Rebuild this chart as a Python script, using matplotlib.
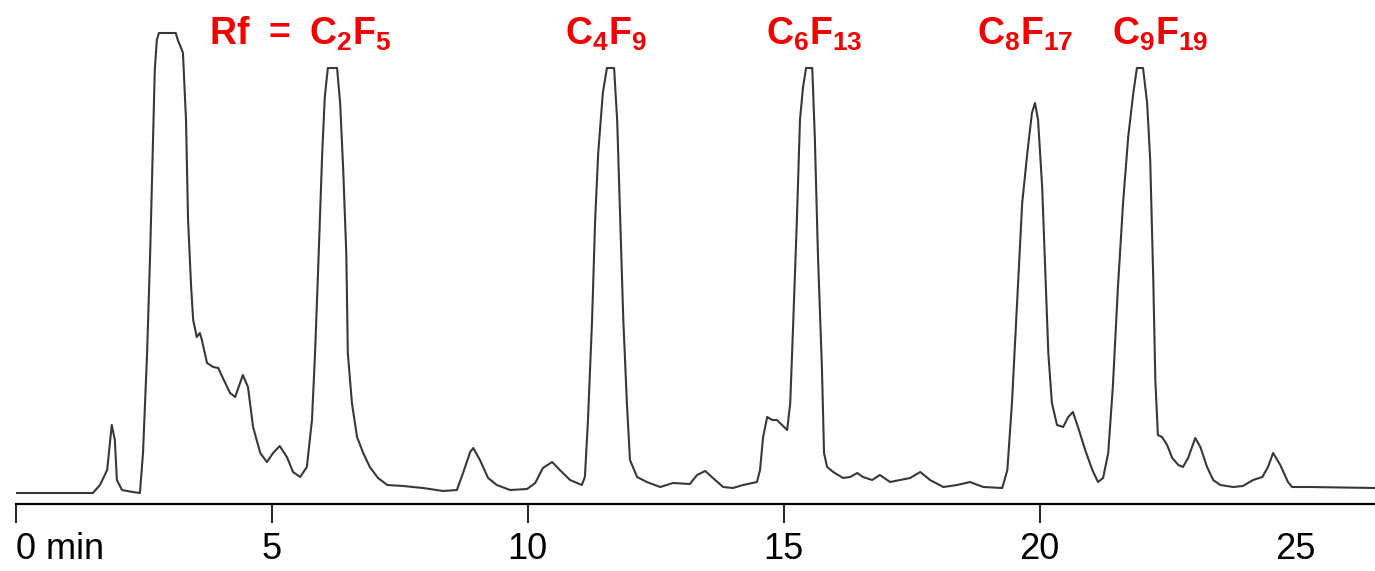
import matplotlib
matplotlib.use("Agg")
import matplotlib.pyplot as plt

plt.rcParams['font.family'] = ['Liberation Sans', 'DejaVu Sans']
plt.rcParams['mathtext.fontset'] = 'custom'
plt.rcParams['mathtext.rm'] = 'Liberation Sans'
plt.rcParams['mathtext.bf'] = 'Liberation Sans:bold'

# chromatogram trace (time in min, detector response in a.u.)
time_min = [0.03, 1.51, 1.65, 1.79, 1.88, 1.94, 1.98, 2.08, 2.29, 2.43,
             2.49, 2.57, 2.63, 2.68, 2.72, 2.76, 2.80, 3.13, 3.17, 3.25,
             3.27, 3.33, 3.37, 3.43, 3.47, 3.54, 3.60, 3.64, 3.74, 3.86,
             3.96, 4.05, 4.19, 4.29, 4.44, 4.54, 4.64, 4.78, 4.91, 5.03,
             5.16, 5.30, 5.42, 5.56, 5.69, 5.79, 5.85, 5.91, 5.99, 6.04,
             6.10, 6.28, 6.34, 6.40, 6.46, 6.49, 6.57, 6.67, 6.79, 6.92,
             7.08, 7.26, 7.57, 7.96, 8.35, 8.62, 8.74, 8.88, 8.94, 9.07,
             9.23, 9.40, 9.66, 9.99, 10.15, 10.30, 10.48, 10.63, 10.83, 11.06,
             11.12, 11.18, 11.26, 11.32, 11.38, 11.47, 11.55, 11.69, 11.75, 11.81,
             11.87, 11.94, 12.00, 12.14, 12.33, 12.59, 12.84, 13.17, 13.31, 13.47,
             13.62, 13.82, 14.01, 14.21, 14.48, 14.54, 14.60, 14.68, 14.78, 14.87,
             14.97, 15.07, 15.13, 15.19, 15.26, 15.32, 15.38, 15.44, 15.56, 15.61,
             15.67, 15.75, 15.79, 15.85, 15.97, 16.16, 16.30, 16.44, 16.55, 16.73,
             16.88, 17.08, 17.28, 17.47, 17.67, 17.86, 18.12, 18.39, 18.64, 18.90,
             19.27, 19.37, 19.46, 19.56, 19.66, 19.76, 19.85, 19.91, 19.97, 20.05,
             20.11, 20.17, 20.24, 20.34, 20.46, 20.56, 20.65, 20.75, 20.89, 21.03,
             21.14, 21.24, 21.34, 21.43, 21.53, 21.63, 21.73, 21.83, 21.90, 22.02,
             22.10, 22.16, 22.22, 22.26, 22.31, 22.39, 22.49, 22.59, 22.71, 22.80,
             22.90, 23.04, 23.14, 23.27, 23.39, 23.53, 23.78, 23.97, 24.17, 24.35,
             24.46, 24.56, 24.70, 24.85, 24.93, 25.28, 26.55]
signal = [0, 0, 8, 23, 68, 53, 13, 3, 1, 0,
          40, 140, 240, 340, 423, 453, 460, 460, 453, 443,
          440, 373, 273, 206, 173, 156, 160, 153, 130, 126,
          125, 115, 100, 96, 118, 106, 66, 40, 31, 40,
          47, 36, 21, 16, 26, 73, 140, 223, 340, 396,
          425, 425, 390, 323, 240, 140, 90, 56, 40, 26,
          15, 8, 7, 5, 2, 3, 20, 41, 45, 33,
          15, 8, 3, 4, 10, 25, 31, 23, 13, 8,
          16, 73, 173, 273, 340, 400, 425, 425, 373, 273,
          173, 90, 33, 16, 11, 6, 10, 9, 18, 22,
          15, 6, 5, 8, 11, 23, 56, 76, 73, 73,
          68, 63, 90, 173, 273, 373, 406, 425, 425, 356,
          240, 123, 40, 26, 21, 15, 16, 20, 16, 13,
          18, 11, 13, 15, 21, 13, 6, 8, 11, 6,
          5, 23, 90, 190, 290, 340, 380, 390, 373, 306,
          223, 140, 90, 68, 66, 76, 81, 66, 43, 23,
          11, 15, 40, 106, 206, 290, 356, 400, 425, 425,
          390, 333, 213, 113, 58, 56, 48, 35, 28, 26,
          35, 55, 46, 26, 13, 8, 6, 7, 13, 16,
          26, 40, 28, 11, 6, 6, 5]

peak_labels = [r'$\mathbf{Rf\ =\ C_2F_5}$', r'$\mathbf{C_4F_9}$', r'$\mathbf{C_6F_{13}}$',
               r'$\mathbf{C_8F_{17}}$', r'$\mathbf{C_9F_{19}}$']
label_time = [5.56, 11.53, 15.60, 19.72, 22.35]

tick_pos = [0, 5, 10, 15, 20, 25]
tick_text = ['0 min', '5', '10', '15', '20', '25']

fig = plt.figure(figsize=(13.75, 5.71), dpi=100)
ax = fig.add_axes([15.5 / 1375, 67 / 571, 1 - 15.5 / 1375, 504 / 571])
ax.plot(time_min, signal, color='#383838', lw=1.5, solid_joinstyle='round')

ax.set_xlim(0, 26.55)
ax.set_ylim(-11, 493)

for s in ['left', 'top', 'right']:
    ax.spines[s].set_visible(False)
ax.spines['bottom'].set_linewidth(1.6)
ax.set_yticks([])

ax.set_xticks(tick_pos)
ax.set_xticklabels(tick_text, fontsize=26)
ax.tick_params(axis='x', direction='out', length=14, width=1.2, pad=6)
ax.get_xticklabels()[0].set_horizontalalignment('left')
# the 25 min label has no tick mark in the original
ax.xaxis.get_major_ticks()[-1].tick1line.set_visible(False)

for lab, t in zip(peak_labels, label_time):
    ax.text(t, 448, lab, color='#f00000', fontsize=27, ha='center', va='baseline')

fig.savefig('out.png', dpi=100)
